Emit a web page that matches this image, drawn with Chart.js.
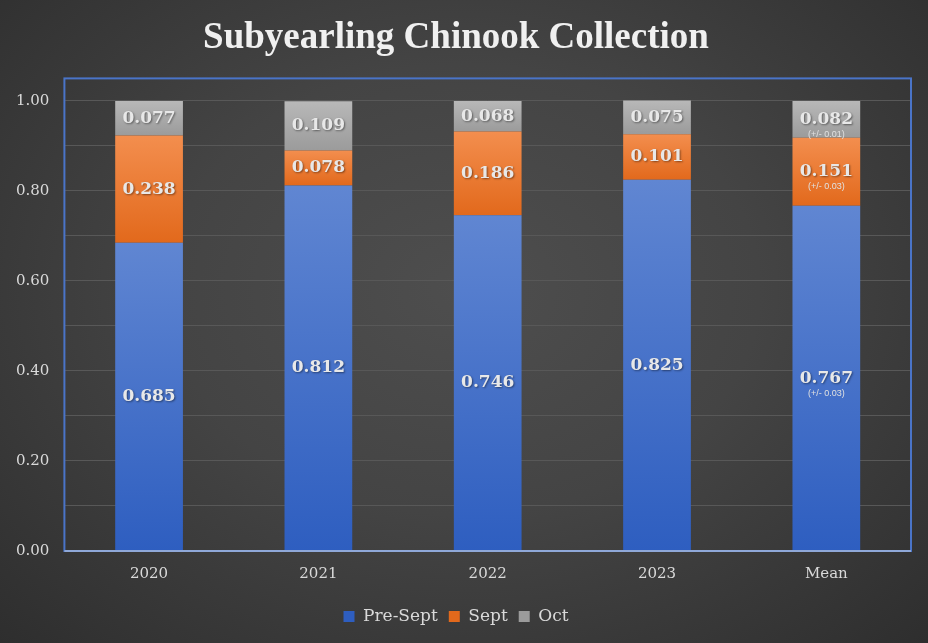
<!DOCTYPE html>
<html>
<head>
<meta charset="utf-8">
<script src="https://cdn.jsdelivr.net/npm/chart.js@4.4.1/dist/chart.umd.min.js"></script>
<style>
  html, body { margin: 0; padding: 0; background: #2b2b2b; }
  #wrap {
    width: 928px; height: 643px; position: relative;
    background: radial-gradient(ellipse at 50% 45%, #4e4e4e 0%, #444 45%, #2e2e2e 100%);
  }
</style>
</head>
<body>
<div id="wrap"><canvas id="grafica" width="928" height="643"></canvas></div>
<script>
// datos
const years = ['2020', '2021', '2022', '2023', 'Mean'];
const preSept = [0.685, 0.812, 0.746, 0.825, 0.767];
const sept = [0.238, 0.078, 0.186, 0.101, 0.151];
const oct = [0.077, 0.109, 0.068, 0.075, 0.082];
// solo la barra Mean lleva el +/-
const preSeptErr = [null, null, null, null, '(+/- 0.03)'];
const septErr = [null, null, null, null, '(+/- 0.03)'];
const octErr = [null, null, null, null, '(+/- 0.01)'];
const yTicks = [0, 0.1, 0.2, 0.3, 0.4, 0.5, 0.6, 0.7, 0.8, 0.9, 1.0];

const series = [preSept, sept, oct];
const errs = [preSeptErr, septErr, octErr];
const shades = [
  ['#6086d2', '#2e5ec0'],
  ['#f38e4e', '#e2691c'],
  ['#b8b8b8', '#9b9b9b']
];

function barFill(idx) {
  return function (ctx) {
    const chart = ctx.chart;
    if (!chart.chartArea || ctx.type !== 'data') return shades[idx][1];
    const y = chart.scales.y;
    let start = 0;
    for (let k = 0; k < idx; k++) start += series[k][ctx.dataIndex];
    const end = start + series[idx][ctx.dataIndex];
    const g = chart.ctx.createLinearGradient(0, y.getPixelForValue(end), 0, y.getPixelForValue(start));
    g.addColorStop(0, shades[idx][0]);
    g.addColorStop(1, shades[idx][1]);
    return g;
  };
}

// caja azul alrededor del area
const boxPlugin = {
  id: 'box',
  afterDraw(chart) {
    const a = chart.chartArea, c = chart.ctx;
    c.save();
    c.strokeStyle = '#4a74c8';
    c.lineWidth = 2;
    c.strokeRect(a.left, a.top, a.right - a.left, a.bottom - a.top);
    c.strokeStyle = '#8fa8d8';
    c.beginPath();
    c.moveTo(a.left, a.bottom);
    c.lineTo(a.right, a.bottom);
    c.stroke();
    c.restore();
  }
};

// etiquetas dentro de las barras
const labelPlugin = {
  id: 'labels',
  afterDatasetsDraw(chart) {
    const c = chart.ctx;
    c.save();
    c.textAlign = 'center';
    c.textBaseline = 'middle';
    chart.data.datasets.forEach((ds, i) => {
      const meta = chart.getDatasetMeta(i);
      meta.data.forEach((bar, j) => {
        const yc = (bar.y + bar.base) / 2;
        c.shadowColor = 'rgba(0,0,0,0.45)';
        c.shadowBlur = 2;
        c.shadowOffsetX = 1;
        c.shadowOffsetY = 1;
        c.fillStyle = '#e8e8e8';
        c.font = 'bold 17px "DejaVu Serif"';
        c.fillText(ds.data[j].toFixed(3), bar.x, yc);
        if (errs[i][j]) {
          c.shadowBlur = 0;
          c.shadowOffsetX = 0;
          c.shadowOffsetY = 0;
          c.font = '9px "Liberation Sans"';
          c.fillStyle = '#e0e0e0';
          c.fillText(errs[i][j], bar.x, yc + 15);
        }
      });
    });
    c.restore();
  }
};

const graph = document.getElementById('grafica');
const config = {
  type: 'bar',
  data: {
    labels: years,
    datasets: [
      { label: 'Pre-Sept', data: preSept, backgroundColor: barFill(0) },
      { label: 'Sept', data: sept, backgroundColor: barFill(1) },
      { label: 'Oct', data: oct, backgroundColor: barFill(2) }
    ]
  },
  options: {
    responsive: false,
    animation: false,
    layout: { padding: { left: 1, right: 17, top: 0, bottom: 8 } },
    datasets: { bar: { categoryPercentage: 1, barPercentage: 0.4 } },
    plugins: {
      title: {
        display: true,
        text: 'Subyearling Chinook Collection',
        color: '#f0f0f0',
        font: { family: '"Liberation Serif"', size: 37, weight: 'bold' },
        padding: { top: 16, bottom: 18 }
      },
      legend: {
        position: 'bottom',
        labels: {
          color: '#d9d9d9',
          boxWidth: 11,
          boxHeight: 11,
          padding: 11,
          font: { family: '"DejaVu Serif"', size: 17 },
          generateLabels(chart) {
            return chart.data.datasets.map((ds, i) => ({
              text: ds.label,
              fillStyle: shades[i][1],
              strokeStyle: shades[i][1],
              lineWidth: 0,
              fontColor: '#d9d9d9',
              datasetIndex: i
            }));
          }
        }
      },
      tooltip: { enabled: false }
    },
    scales: {
      x: {
        stacked: true,
        grid: { display: false, drawTicks: false },
        border: { display: false },
        ticks: { color: '#d9d9d9', font: { family: '"DejaVu Serif"', size: 15 }, padding: 14 }
      },
      y: {
        stacked: true,
        min: 0,
        max: 1.05,
        afterBuildTicks(scale) {
          scale.ticks = yTicks.map(v => ({ value: v }));
        },
        grid: { color: '#585858', lineWidth: 1, drawTicks: false },
        border: { display: false },
        ticks: {
          color: '#d9d9d9',
          font: { family: '"DejaVu Serif"', size: 15 },
          padding: 15,
          callback(v) {
            return Math.round(v * 10) % 2 === 0 ? v.toFixed(2) : '';
          }
        }
      }
    }
  },
  plugins: [boxPlugin, labelPlugin]
};
let grafico = new Chart(graph, config);
</script>
</body>
</html>
